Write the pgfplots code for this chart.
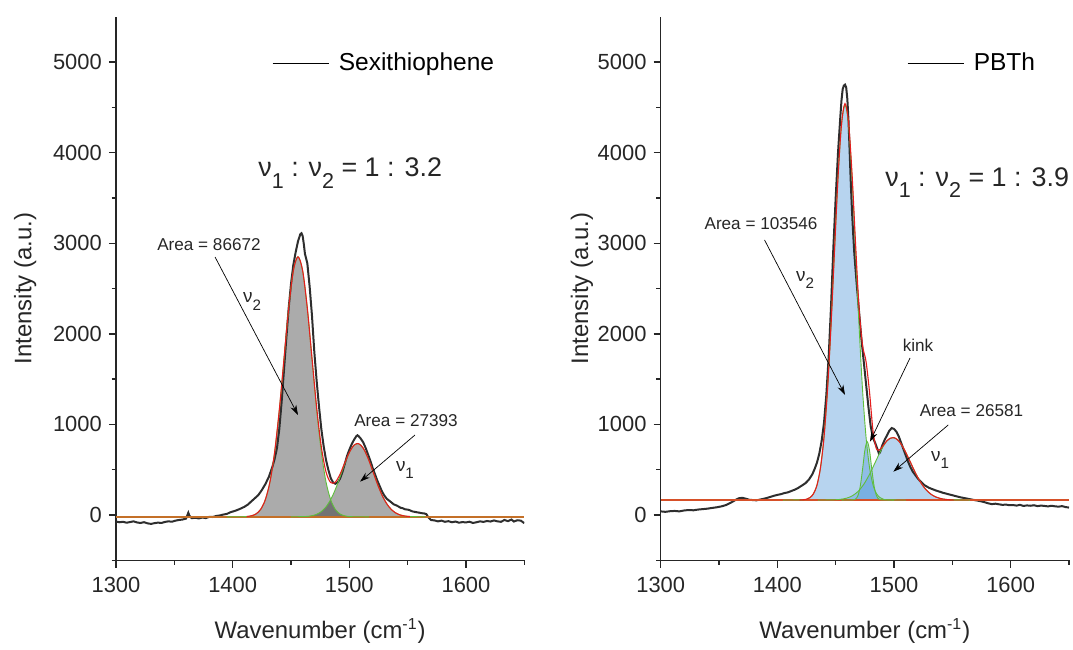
\documentclass[border=0pt]{standalone}
\usepackage{fontspec}
\setmainfont{Liberation Sans}
\usepackage{graphicx}
\usepackage{pgfplots}
\pgfplotsset{compat=1.18}
\usetikzlibrary{arrows.meta}

\definecolor{fitred}{RGB}{228,30,30}
\definecolor{fitgreen}{RGB}{95,190,60}
\definecolor{baseL}{RGB}{196,112,40}
\definecolor{baseR}{RGB}{214,80,40}
\definecolor{bandblue}{RGB}{95,160,220}

\newcommand{\nusub}[1]{ν\raisebox{-0.42em}{\scalebox{0.8}{#1}}}

\pgfplotsset{
  spec/.style={
    scale only axis, width=204.15bp, height=271.8bp,
    xmin=1300, xmax=1650, ymin=-500, ymax=5500,
    enlargelimits=false,
    xtick={1300,1400,1500,1600}, minor xtick={1350,1450,1550,1650},
    ytick={0,1000,2000,3000,4000,5000}, minor ytick={-500,500,1500,2500,3500,4500},
    axis x line*=bottom, axis y line*=left,
    axis line style={-, line width=0.7bp, black!85},
    tick align=outside, major tick length=3.6bp, minor tick length=2.2bp,
    every tick/.style={black!85, line width=0.7bp},
    /pgf/number format/assume math mode=true,
    /pgf/number format/set thousands separator={},
    tick label style={font=\fontsize{11}{13}\selectfont, black!85},
    xticklabel style={yshift=-1.5bp},
    label style={font=\fontsize{12}{14}\selectfont, black!85},
    xlabel style={yshift=-6bp},
    xlabel={Wavenumber (cm\textsuperscript{-1})},
    ylabel={Intensity (a.u.)},
    legend image code/.code={\draw[black, line width=0.5bp] (0bp,0bp) -- (28.3bp,0bp); \path (32.6bp,0bp);},
    legend style={draw=none, fill=none, anchor=west, inner sep=0pt,
      font=\fontsize{12.3}{14}\selectfont, nodes={inner sep=0pt}},
    legend cell align=left,
  },
  fitline/.style={fitred, line width=0.55bp, smooth, forget plot},
  comp/.style={fitgreen, line width=0.45bp, smooth, forget plot},
  raw/.style={black!82, line width=1bp},
}

\begin{document}
\begin{tikzpicture}
% ---------------- left: sexithiophene ----------------
\begin{axis}[spec, legend style={at={(0.3813,0.914)}}, ylabel style={yshift=1.5bp}]
  % fitted bands, filled
  \addplot[fill=black, fill opacity=0.33, draw=none, smooth, forget plot] coordinates {
    (1395,-20) (1408,-19) (1412,-17) (1416,-9) (1420,12) (1424,62) (1428,169) (1432,367)
    (1436,695) (1440,1160) (1444,1722) (1448,2279) (1452,2695) (1456,2850) (1460,2695)
    (1464,2279) (1468,1722) (1472,1160) (1476,695) (1480,367) (1484,169) (1488,62)
    (1492,12) (1496,-9) (1500,-17) (1504,-19) (1517,-20)};
  \addplot[fill=black, fill opacity=0.33, draw=none, smooth, forget plot] coordinates {
    (1450,-20) (1462,-17) (1466.5,-11) (1471,3) (1475.5,33) (1480,89) (1484.5,182)
    (1489,313) (1493.5,472) (1498,629) (1502.5,746) (1507,790) (1511.5,746) (1516,629)
    (1520.5,472) (1525,313) (1529.5,182) (1534,89) (1538.5,33) (1543,3) (1547.5,-11)
    (1552,-17) (1565,-20)};
  % measured spectrum
  \addplot[raw] coordinates {
    (1300,-72) (1303,-80) (1306,-75) (1309,-85) (1312,-78) (1315,-70) (1318,-82) (1321,-88)
    (1324,-79) (1327,-92) (1330,-98) (1333,-90) (1336,-84) (1339,-88) (1342,-76) (1345,-70)
    (1348,-74) (1351,-62) (1354,-55) (1357,-50) (1360,-40) (1362,25) (1363,-10) (1365,-35)
    (1368,-30) (1371,-38) (1374,-28) (1377,-34) (1380,-20) (1383,-22) (1386,-10) (1389,-5)
    (1392,5) (1395,12) (1398,30) (1401,42) (1404,55) (1407,72) (1410,90) (1413,115)
    (1416,150) (1419,185) (1422,220) (1425,275) (1428,340) (1431,420) (1434,530) (1436,620)
    (1438,740) (1440,950) (1442,1250) (1444,1600) (1446,1950) (1448,2280) (1450,2550)
    (1452,2760) (1454,2900) (1456,3020) (1458,3100) (1459,3110) (1460,3080) (1461,2990)
    (1462,2880) (1463,2830) (1464,2780) (1466,2520) (1468,2200) (1470,1800) (1472,1480)
    (1474,1200) (1476,950) (1478,760) (1480,610) (1482,500) (1484,410) (1486,360) (1488,345)
    (1490,360) (1492,400) (1494,470) (1496,560) (1498,650) (1500,720) (1502,780) (1504,830)
    (1506,870) (1507,880) (1508,870) (1510,840) (1512,800) (1514,740) (1516,670) (1518,600)
    (1520,520) (1522,450) (1524,380) (1526,320) (1528,260) (1530,215) (1532,180) (1534,160)
    (1536,140) (1538,118) (1540,108) (1542,95) (1544,80) (1546,74) (1548,62) (1550,60)
    (1552,52) (1554,40) (1556,35) (1558,30) (1560,26) (1562,20) (1564,18) (1566,10)
    (1568,-30) (1570,-55) (1573,-60) (1576,-70) (1579,-62) (1582,-75) (1585,-68) (1588,-80)
    (1591,-72) (1594,-85) (1597,-78) (1600,-82) (1603,-74) (1606,-88) (1609,-80) (1612,-70)
    (1615,-76) (1618,-66) (1621,-72) (1624,-60) (1627,-70) (1630,-75) (1633,-55) (1636,-68)
    (1639,-50) (1641,-72) (1644,-58) (1647,-62) (1650,-90)};
  \addlegendentry{Sexithiophene}
  % baseline
  \addplot[baseL, line width=0.8bp, forget plot] coordinates {(1300,-20) (1650,-20)};
  % components
  \addplot[comp] coordinates {
    (1395,-20) (1408,-19) (1412,-17) (1416,-9) (1420,12) (1424,62) (1428,169) (1432,367)
    (1436,695) (1440,1160) (1444,1722) (1448,2279) (1452,2695) (1456,2850) (1460,2695)
    (1464,2279) (1468,1722) (1472,1160) (1476,695) (1480,367) (1484,169) (1488,62)
    (1492,12) (1496,-9) (1500,-17) (1504,-19) (1517,-20)};
  \addplot[comp] coordinates {
    (1450,-20) (1462,-17) (1466.5,-11) (1471,3) (1475.5,33) (1480,89) (1484.5,182)
    (1489,313) (1493.5,472) (1498,629) (1502.5,746) (1507,790) (1511.5,746) (1516,629)
    (1520.5,472) (1525,313) (1529.5,182) (1534,89) (1538.5,33) (1543,3) (1547.5,-11)
    (1552,-17) (1565,-20)};
  % cumulative fit
  \addplot[fitline] coordinates {
    (1412,-17) (1416,-9) (1420,12) (1424,62) (1428,169) (1432,367) (1436,695) (1440,1160)
    (1444,1722) (1448,2279) (1452,2695) (1456,2850) (1460,2697) (1464,2284) (1468,1734)
    (1472,1188) (1476,753) (1480,477) (1484,359) (1488,363) (1492,449) (1496,572) (1500,691)
    (1504,771) (1508,788) (1512,736) (1516,629) (1520,489) (1524,346) (1528,221) (1532,126)
    (1536,61) (1540,21) (1544,-1) (1548,-12) (1552,-17)};

  \node[anchor=base west, font=\fontsize{13.5}{15}\selectfont, black!85] at (axis cs:1416,3731)
    {\nusub{1} : \nusub{2} = 1 : 3.2};
  \node[font=\fontsize{8.6}{10}\selectfont, black!85] at (axis cs:1379.7,2980) {Area = 86672};
  \draw[-{Stealth[length=5bp,width=3.2bp]}, line width=0.35bp] (axis cs:1384.9,2848) -- (axis cs:1456,1104);
  \node[font=\fontsize{9.5}{11}\selectfont, black!85] at (axis cs:1416.6,2352) {\nusub{2}};
  \node[font=\fontsize{8.6}{10}\selectfont, black!85] at (axis cs:1548.6,1038) {Area = 27393};
  \draw[-{Stealth[length=5bp,width=3.2bp]}, line width=0.35bp] (axis cs:1556.3,883) -- (axis cs:1509.2,368);
  \node[font=\fontsize{9.5}{11}\selectfont, black!85] at (axis cs:1547.7,497) {\nusub{1}};
\end{axis}

% ---------------- right: PBTh ----------------
\begin{axis}[spec, at={(272.35bp,0bp)}, legend style={at={(0.6025,0.914)}}, ylabel style={yshift=-4.5bp}]
  \addplot[fill=bandblue, fill opacity=0.45, draw=none, smooth, forget plot] coordinates {
    (1405,165) (1422,168) (1425,174) (1428,192) (1431,236) (1434,332) (1437,525) (1440,863)
    (1443,1386) (1446,2096) (1449,2921) (1452,3723) (1455,4307) (1458,4525) (1461,4307)
    (1464,3723) (1467,2921) (1470,2096) (1473,1386) (1476,863) (1479,525) (1482,332)
    (1485,236) (1488,192) (1491,174) (1494,168) (1510,165)};
  \addplot[fill=bandblue, fill opacity=0.45, draw=none, smooth, forget plot] coordinates {
    (1455,165) (1465,167) (1467,176) (1469,212) (1471,313) (1473,500) (1475,713) (1477,810)
    (1479,713) (1481,500) (1483,313) (1485,212) (1487,176) (1489,167) (1500,165)};
  \addplot[fill=bandblue, fill opacity=0.45, draw=none, smooth, forget plot] coordinates {
    (1435,165) (1449,168) (1454,173) (1459,185) (1464,210) (1469,258) (1474,337) (1479,449)
    (1484,584) (1489,718) (1494,818) (1499,855) (1504,818) (1509,718) (1514,584) (1519,449)
    (1524,337) (1529,258) (1534,210) (1539,185) (1544,173) (1549,168) (1565,165)};
  \addplot[raw] coordinates {
    (1300,40) (1304,35) (1308,42) (1312,45) (1316,40) (1320,50) (1324,55) (1328,52) (1332,60)
    (1336,65) (1340,70) (1344,78) (1348,85) (1352,95) (1356,110) (1360,135) (1364,165)
    (1367,185) (1370,190) (1373,180) (1376,168) (1379,165) (1382,162) (1385,170) (1388,178)
    (1391,188) (1394,200) (1397,212) (1400,222) (1403,230) (1406,242) (1409,250) (1412,265)
    (1415,280) (1418,300) (1421,325) (1424,350) (1427,390) (1430,450) (1432,510) (1434,580)
    (1436,680) (1438,820) (1440,1020) (1442,1330) (1444,1750) (1446,2300) (1448,2950)
    (1450,3500) (1452,4000) (1454,4400) (1455,4580) (1456,4700) (1457,4740) (1458,4750)
    (1459,4720) (1460,4590) (1461,4350) (1462,4000) (1463,3650) (1464,3350) (1465,3100)
    (1466,2880) (1468,2550) (1470,2250) (1472,1950) (1474,1700) (1476,1450) (1478,1200)
    (1480,980) (1482,850) (1484,790) (1486,720) (1487,680) (1488,690) (1490,770) (1492,830)
    (1494,880) (1496,930) (1498,960) (1500,950) (1502,920) (1504,870) (1506,800) (1508,730)
    (1510,660) (1512,590) (1514,530) (1516,480) (1518,445) (1520,410) (1522,380) (1524,355)
    (1526,330) (1528,315) (1530,300) (1533,285) (1536,270) (1539,258) (1542,245) (1545,235)
    (1548,225) (1551,215) (1554,205) (1557,195) (1560,188) (1563,180) (1566,172) (1569,165)
    (1572,158) (1575,150) (1578,140) (1581,128) (1584,120) (1587,125) (1590,118) (1593,112)
    (1596,115) (1599,108) (1602,110) (1605,104) (1608,112) (1611,100) (1614,106) (1617,102)
    (1620,108) (1623,98) (1626,104) (1629,100) (1632,95) (1635,102) (1638,96) (1641,92)
    (1644,98) (1647,88) (1650,82)};
  \addlegendentry{PBTh}
  \addplot[baseR, line width=0.8bp, forget plot] coordinates {(1300,165) (1650,165)};
  \addplot[comp] coordinates {
    (1405,165) (1422,168) (1425,174) (1428,192) (1431,236) (1434,332) (1437,525) (1440,863)
    (1443,1386) (1446,2096) (1449,2921) (1452,3723) (1455,4307) (1458,4525) (1461,4307)
    (1464,3723) (1467,2921) (1470,2096) (1473,1386) (1476,863) (1479,525) (1482,332)
    (1485,236) (1488,192) (1491,174) (1494,168) (1510,165)};
  \addplot[comp] coordinates {
    (1455,165) (1465,167) (1467,176) (1469,212) (1471,313) (1473,500) (1475,713) (1477,810)
    (1479,713) (1481,500) (1483,313) (1485,212) (1487,176) (1489,167) (1500,165)};
  \addplot[comp] coordinates {
    (1435,165) (1449,168) (1454,173) (1459,185) (1464,210) (1469,258) (1474,337) (1479,449)
    (1484,584) (1489,718) (1494,818) (1499,855) (1504,818) (1509,718) (1514,584) (1519,449)
    (1524,337) (1529,258) (1534,210) (1539,185) (1544,173) (1549,168) (1565,165)};
  \addplot[fitline] coordinates {
    (1419,166) (1422,168) (1425,174) (1428,192) (1431,236) (1434,332) (1437,525) (1440,863)
    (1443,1387) (1446,2097) (1449,2924) (1452,3728) (1455,4316) (1458,4541) (1461,4335)
    (1464,3769) (1467,3003) (1470,2290) (1473,1875) (1476,1695) (1479,1357) (1482,927)
    (1485,729) (1488,724) (1491,772) (1494,821) (1497,849) (1500,854) (1503,831) (1506,784)
    (1509,718) (1512,639) (1515,556) (1518,474) (1521,400) (1524,337) (1527,286) (1530,247)
    (1533,218) (1536,198) (1539,185) (1542,176) (1545,171) (1548,168) (1551,166)};

  \node[anchor=base west, font=\fontsize{13.5}{15}\selectfont, black!85] at (axis cs:1486.5,3627)
    {\nusub{1} : \nusub{2} = 1 : 3.9};
  \node[font=\fontsize{8.6}{10}\selectfont, black!85] at (axis cs:1386,3213) {Area = 103546};
  \draw[-{Stealth[length=5bp,width=3.2bp]}, line width=0.35bp] (axis cs:1389,3036) -- (axis cs:1458,1325);
  \node[font=\fontsize{9.5}{11}\selectfont, black!85] at (axis cs:1423.8,2594) {\nusub{2}};
  \node[font=\fontsize{8.6}{10}\selectfont, black!85] at (axis cs:1520.6,1877) {kink};
  \draw[-{Stealth[length=5bp,width=3.2bp]}, line width=0.35bp] (axis cs:1513.7,1733) -- (axis cs:1479.4,809);
  \node[font=\fontsize{8.6}{10}\selectfont, black!85] at (axis cs:1566.4,1148) {Area = 26581};
  \draw[-{Stealth[length=5bp,width=3.2bp]}, line width=0.35bp] (axis cs:1546.5,994) -- (axis cs:1499.4,478);
  \node[font=\fontsize{9.5}{11}\selectfont, black!85] at (axis cs:1539.5,607) {\nusub{1}};
\end{axis}
\path[use as bounding box] (-58bp,-40.85bp) rectangle (478.5bp,280.15bp);
\end{tikzpicture}
\end{document}
